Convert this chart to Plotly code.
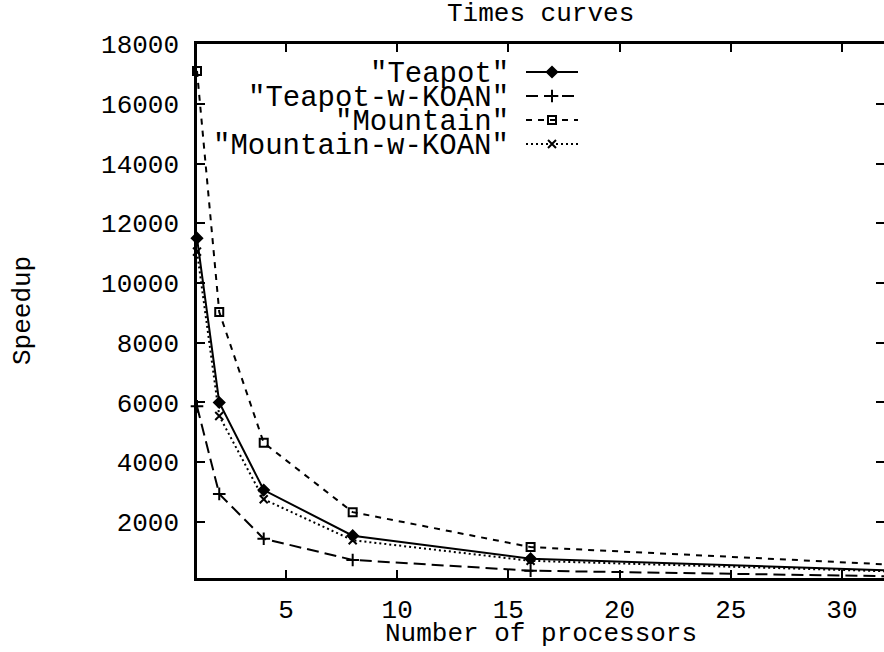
import plotly.graph_objects as go

# ---- data ----
procs = [1, 2, 4, 8, 16, 32]
teapot = [11500, 6000, 3070, 1540, 770, 385]
teapot_koan = [5870, 2940, 1440, 730, 370, 185]
mountain = [17100, 9030, 4650, 2330, 1160, 580]
mountain_koan = [11050, 5550, 2760, 1390, 700, 350]

series_names = ['"Teapot"', '"Teapot-w-KOAN"', '"Mountain"', '"Mountain-w-KOAN"']
series_values = [teapot, teapot_koan, mountain, mountain_koan]

y_ticks = [2000, 4000, 6000, 8000, 10000, 12000, 14000, 16000, 18000]
x_ticks = [5, 10, 15, 20, 25, 30]

FONT = "Liberation Mono"
FS = 26
FS_KEY = 29

styles = [
    dict(dash="solid", symbol="diamond", size=8),
    dict(dash="12px,6px", symbol="cross-thin", size=9),
    dict(dash="6px,6px", symbol="square-open", size=8),
    dict(dash="2px,3px", symbol="x-thin", size=8),
]

W, H = 884, 652
L, R, T, B = 197, 0, 44, 74
PW, PH = W - L - R, H - T - B


def px(xp):
    return (xp - L) / PW


def py(yp):
    return (H - B - yp) / PH


fig = go.Figure()

for name, vals, st in zip(series_names, series_values, styles):
    fig.add_trace(go.Scatter(
        x=procs, y=vals, name=name, mode="lines+markers",
        line=dict(color="black", width=2, dash=st["dash"]),
        marker=dict(symbol=st["symbol"], size=st["size"], color="black",
                    line=dict(color="black", width=2)),
        cliponaxis=False, showlegend=False,
    ))

# ---- gnuplot-style key (overlay axes in pixel units) ----
key_rows = [72, 96, 120, 144]
key_x0, key_x1, key_mid = 526, 578, 552
for name, row, st in zip(series_names, key_rows, styles):
    fig.add_trace(go.Scatter(
        x=[key_x0, key_x1], y=[row, row], mode="lines", xaxis="x2", yaxis="y2",
        line=dict(color="black", width=2, dash=st["dash"]), showlegend=False,
        hoverinfo="skip"))
    fig.add_trace(go.Scatter(
        x=[key_mid], y=[row], mode="markers", xaxis="x2", yaxis="y2",
        marker=dict(symbol=st["symbol"], size=st["size"], color="black",
                    line=dict(color="black", width=2)),
        showlegend=False, hoverinfo="skip"))
    fig.add_annotation(x=px(511), y=py(row + 2), xref="paper", yref="paper", text=name,
                       showarrow=False, xanchor="right", yanchor="middle",
                       font=dict(family=FONT, size=FS_KEY, color="black"))

# axis titles and chart title placed in pixel units
fig.add_annotation(x=px((L + W) / 2), y=py(634), xref="paper", yref="paper",
                   text="Number of processors", showarrow=False,
                   xanchor="center", yanchor="middle",
                   font=dict(family=FONT, size=FS, color="black"))
fig.add_annotation(x=px(23), y=py((T + H - B) / 2), xref="paper", yref="paper",
                   text="Speedup", showarrow=False, textangle=-90,
                   xanchor="center", yanchor="middle",
                   font=dict(family=FONT, size=FS, color="black"))
fig.add_annotation(x=px((L + W) / 2), y=py(14), xref="paper", yref="paper",
                   text="Times curves", showarrow=False,
                   xanchor="center", yanchor="middle",
                   font=dict(family=FONT, size=FS, color="black"))

axis_common = dict(
    showgrid=False, zeroline=False, showline=True, linecolor="black",
    linewidth=2.5, mirror="ticks", ticks="inside", ticklen=8, tickwidth=2,
    tickcolor="black", tickfont=dict(family=FONT, size=FS, color="black"),
    automargin=False,
)

fig.update_layout(
    width=W, height=H,
    margin=dict(l=L, r=R, t=T, b=B, pad=0),
    paper_bgcolor="white", plot_bgcolor="white",
    xaxis=dict(range=[1, 31.89], tickvals=x_ticks, ticktext=[str(v) for v in x_ticks],
               ticklabelstandoff=6, **axis_common),
    yaxis=dict(range=[125, 18000], tickvals=y_ticks, ticktext=[str(v) for v in y_ticks],
               ticklabelstandoff=10, **axis_common),
    xaxis2=dict(overlaying="x", range=[L, W - R], visible=False, fixedrange=True),
    yaxis2=dict(overlaying="y", range=[H - B, T], visible=False, fixedrange=True),
    showlegend=False,
)

fig.write_html("out.html", config={"displayModeBar": False},
               post_script="document.body.style.margin='0px';document.body.style.overflow='hidden';")
